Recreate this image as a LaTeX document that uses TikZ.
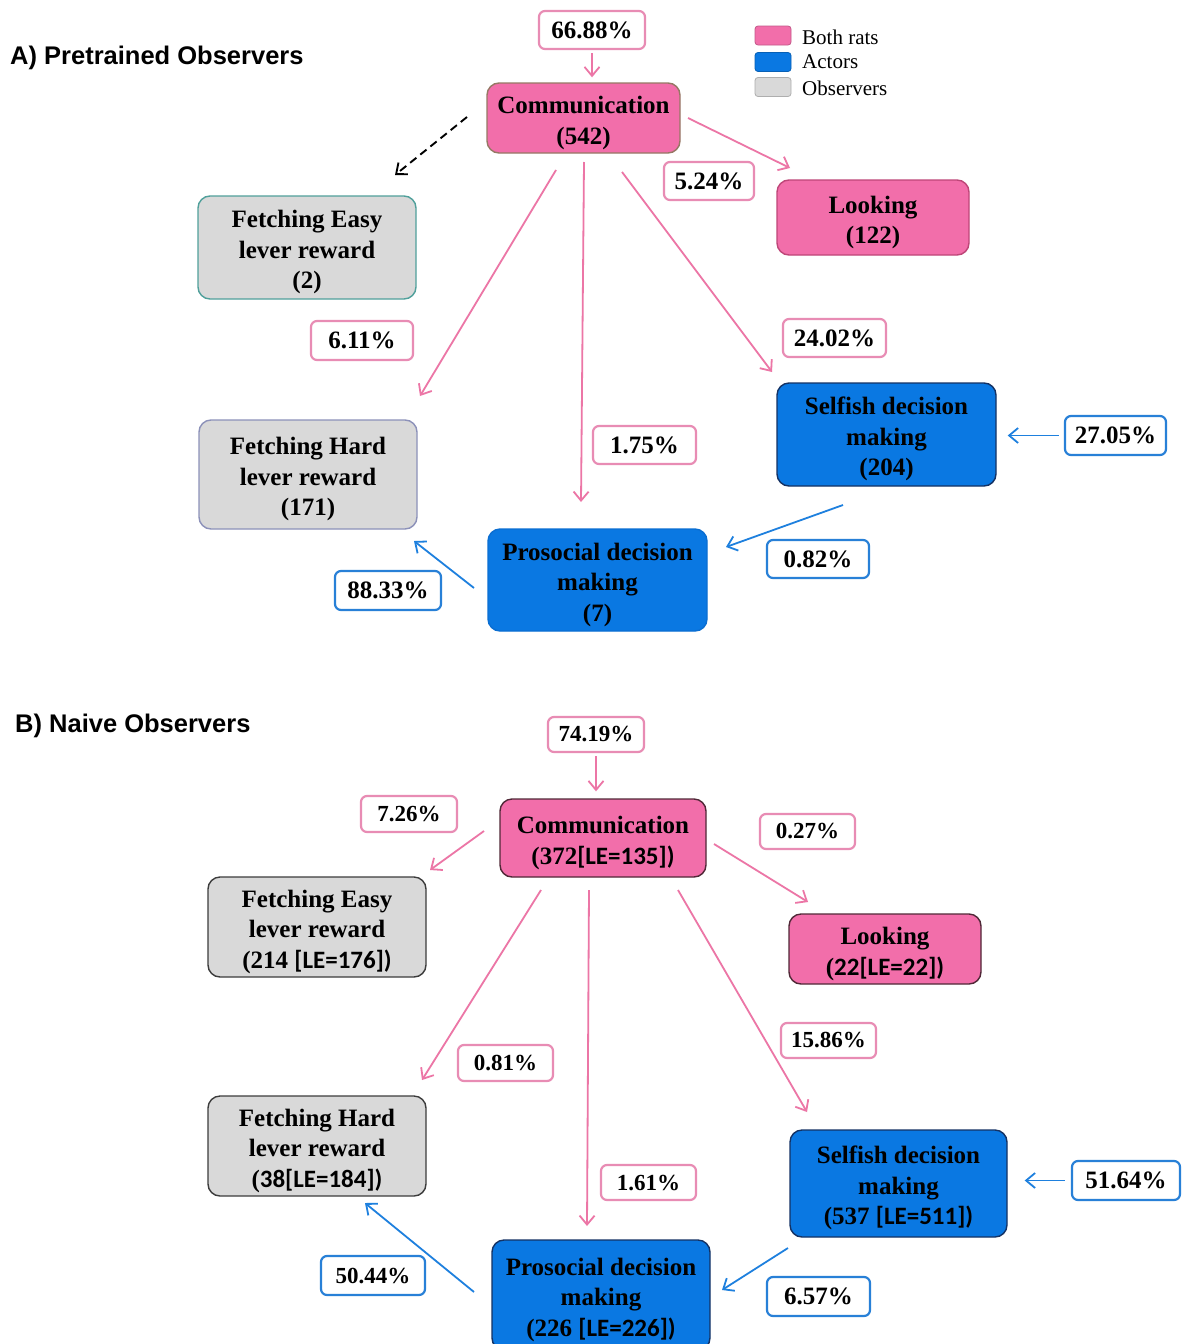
\documentclass[tikz,border=0pt]{standalone}
\usepackage{fontspec}
\setmainfont{Liberation Serif}
\newfontfamily\headfont{Liberation Sans}
\newfontfamily\lefont{Carlito}
\usetikzlibrary{arrows.meta}

% invisible strut that gives the first line of a box some extra head room
\newcommand\headroom{\rule{0pt}{27pt}}

\definecolor{bothfill}{RGB}{242,110,170}
\definecolor{actfill}{RGB}{10,120,226}
\definecolor{obsfill}{RGB}{217,217,217}
\definecolor{pinkln}{RGB}{236,118,166}
\definecolor{pinklbl}{RGB}{232,140,180}
\definecolor{blueln}{RGB}{30,128,222}
\definecolor{bluelbl}{RGB}{40,128,215}
\definecolor{bothedge}{RGB}{150,70,100}
\definecolor{commedge}{RGB}{150,120,100}
\definecolor{lookedge}{RGB}{190,70,120}
\definecolor{darkedge}{RGB}{80,40,55}
\definecolor{actedge}{RGB}{20,50,100}
\definecolor{prosedge}{RGB}{10,110,210}
\definecolor{obsedge}{RGB}{60,60,60}
\definecolor{tealedge}{RGB}{80,160,155}
\definecolor{lilacedge}{RGB}{140,145,185}

\tikzset{
  box/.style={rounded corners=12pt, line width=1.4pt, align=center, inner sep=0pt,
              font=\bfseries\fontsize{25}{30.5}\selectfont},
  both/.style={box, fill=bothfill, draw=#1},
  both/.default=bothedge,
  actor/.style={box, fill=actfill, draw=#1},
  actor/.default=actedge,
  obs/.style={box, fill=obsfill, draw=#1},
  obs/.default=obsedge,
  lbl/.style={rounded corners=6pt, fill=white, line width=2.2pt, inner sep=0pt,
              font=\bfseries\fontsize{25}{30}\selectfont},
  plbl/.style={lbl, draw=pinklbl},
  blbl/.style={lbl, draw=bluelbl},
  small/.style={font=\bfseries\fontsize{23}{28}\selectfont},
  tip/.style={-{Straight Barb[length=9pt,width=15pt]}},
  parr/.style={draw=pinkln, line width=1.8pt, tip},
  barr/.style={draw=blueln, line width=1.8pt, tip},
  swatch/.style={rounded corners=3pt, line width=0.8pt, minimum width=36pt, minimum height=19pt, inner sep=0pt},
  legtext/.style={anchor=west, inner sep=0pt, font=\fontsize{21}{24}\selectfont},
  paneltitle/.style={anchor=west, inner sep=0pt, font=\headfont\bfseries\fontsize{25.5}{30}\selectfont},
}

\begin{document}
\begin{tikzpicture}[x=1pt, y=-1pt]
\path[use as bounding box, clip] (0,0) rectangle (1182,1344);
\fill[white] (0,0) rectangle (1182,1344);

% ---------------- Panel A: pretrained observers ----------------
\node[paneltitle] (titleA) at (10,58) {A) Pretrained Observers};

% legend
\node[swatch, fill=bothfill, draw=bothfill!80!black] (swBoth) at (773,35.5) {};
\node[swatch, fill=actfill, draw=actfill!80!black] (swAct) at (773,62) {};
\node[swatch, fill=obsfill, draw=obsfill!80!black] (swObs) at (773,87) {};
\node[legtext] (tBoth) at (802,37) {Both rats};
\node[legtext] (tAct) at (802,62) {Actors};
\node[legtext] (tObs) at (802,88) {Observers};

\node[plbl, minimum width=106, minimum height=38] (lA1) at (592,30) {66.88\%};
\node[both=commedge, minimum width=193, minimum height=70] (commA) at (583.5,118) {\headroom Communication\\(542)};
\node[both=lookedge, minimum width=192, minimum height=75] (lookA) at (873,217.5) {\headroom Looking\\(122)};
\node[obs=tealedge, minimum width=218, minimum height=103] (easyA) at (307,247.5) {\headroom Fetching Easy\\lever reward\\(2)};
\node[obs=lilacedge, minimum width=218, minimum height=109] (hardA) at (308,474.5) {\headroom Fetching Hard\\lever reward\\(171)};
\node[actor, minimum width=219, minimum height=103] (selfA) at (886.5,434.5) {\headroom Selfish decision\\making\\(204)};
\node[actor=prosedge, minimum width=219, minimum height=102] (prosA) at (597.5,580) {\headroom Prosocial decision\\making\\(7)};

\node[plbl, minimum width=90, minimum height=38] (l524) at (709,181) {5.24\%};
\node[plbl, minimum width=102, minimum height=39] (l611) at (362,340.5) {6.11\%};
\node[plbl, minimum width=103, minimum height=38] (l2402) at (834.5,338) {24.02\%};
\node[blbl, minimum width=101, minimum height=39] (l2705) at (1115.5,435.5) {27.05\%};
\node[plbl, minimum width=103, minimum height=38] (l175) at (644.5,445) {1.75\%};
\node[blbl, minimum width=102, minimum height=38] (l082) at (818,559) {0.82\%};
\node[blbl, minimum width=106, minimum height=39] (l8833) at (388,590.5) {88.33\%};

% free ends of the panel A connectors
\coordinate (dA1) at (467,117);  \coordinate (dA2) at (395,175);
\coordinate (cLk1) at (688,118); \coordinate (cLk2) at (790,168);
\coordinate (cHd1) at (556,170); \coordinate (cHd2) at (420,396);
\coordinate (cPr1) at (584,162); \coordinate (cPr2) at (581,502);
\coordinate (cSf1) at (622,172); \coordinate (cSf2) at (772,372);
\coordinate (sP1) at (843,505);  \coordinate (sP2) at (726,547);
\coordinate (pH1) at (474,588);  \coordinate (pH2) at (414,541);

\draw[parr, shorten <=3pt, shorten >=5pt] (lA1.south) -- (lA1.south |- commA.north);
\draw[black, line width=1.9pt, dash pattern=on 8pt off 5pt, tip] (dA1) -- (dA2);
\draw[parr] (cLk1) -- (cLk2);
\draw[parr] (cHd1) -- (cHd2);
\draw[parr] (cPr1) -- (cPr2);
\draw[parr] (cSf1) -- (cSf2);
\draw[barr, shorten <=5pt, shorten >=11pt] (l2705.west) -- (l2705.west -| selfA.east);
\draw[barr] (sP1) -- (sP2);
\draw[barr] (pH1) -- (pH2);

% ---------------- Panel B: naive observers ----------------
\node[paneltitle] (titleB) at (15,726) {B) Naive Observers};

\node[plbl, small, minimum width=96, minimum height=35] (lB1) at (596,734.5) {74.19\%};
\node[both=darkedge, minimum width=206, minimum height=78] (commB) at (603,838) {\headroom Communication\\(372{\lefont[LE=135])}};
\node[obs, minimum width=218, minimum height=100] (easyB) at (317,927) {\headroom Fetching Easy\\lever reward\\(214 {\lefont[LE=176])}};
\node[both=darkedge, minimum width=192, minimum height=70] (lookB) at (885,949) {\headroom Looking\\({\lefont22[LE=22])}};
\node[obs, minimum width=218, minimum height=100] (hardB) at (317,1146) {\headroom Fetching Hard\\lever reward\\({\lefont38[LE=184])}};
\node[actor, minimum width=217, minimum height=107] (selfB) at (898.5,1183.5) {\headroom Selfish decision\\making\\(537 {\lefont[LE=511])}};
\node[actor, minimum width=218, minimum height=110] (prosB) at (601,1295) {\headroom Prosocial decision\\making\\(226 {\lefont[LE=226])}};

\node[plbl, small, minimum width=96, minimum height=36] (l726) at (409,814) {7.26\%};
\node[plbl, small, minimum width=95, minimum height=35] (l027) at (807.5,831.5) {0.27\%};
\node[plbl, small, minimum width=95, minimum height=36] (l081) at (505.5,1063) {0.81\%};
\node[plbl, small, minimum width=95, minimum height=35] (l1586) at (828.5,1040.5) {15.86\%};
\node[blbl, minimum width=108, minimum height=39] (l5164) at (1126,1180.5) {51.64\%};
\node[plbl, small, minimum width=95, minimum height=35] (l161) at (648.5,1182.5) {1.61\%};
\node[blbl, minimum width=103, minimum height=39] (l657) at (818.5,1296.5) {6.57\%};
\node[blbl, small, minimum width=104, minimum height=39] (l5044) at (373,1275.5) {50.44\%};

% free ends of the panel B connectors
\coordinate (cEzB1) at (484,831);  \coordinate (cEzB2) at (430,870);
\coordinate (cLkB1) at (714,844);  \coordinate (cLkB2) at (808,902);
\coordinate (cHdB1) at (541,890);  \coordinate (cHdB2) at (422,1080);
\coordinate (cPrB1) at (589,890);  \coordinate (cPrB2) at (587,1226);
\coordinate (cSfB1) at (678,890);  \coordinate (cSfB2) at (807,1112);
\coordinate (sPB1) at (788,1248);  \coordinate (sPB2) at (722,1290);
\coordinate (pHB1) at (474,1292);  \coordinate (pHB2) at (365,1203);

\draw[parr, shorten <=3pt, shorten >=7pt] (lB1.south) -- (lB1.south |- commB.north);
\draw[parr] (cEzB1) -- (cEzB2);
\draw[parr] (cLkB1) -- (cLkB2);
\draw[parr] (cHdB1) -- (cHdB2);
\draw[parr] (cPrB1) -- (cPrB2);
\draw[parr] (cSfB1) -- (cSfB2);
\draw[barr, shorten <=6pt, shorten >=17pt] (l5164.west) -- (l5164.west -| selfB.east);
\draw[barr] (sPB1) -- (sPB2);
\draw[barr] (pHB1) -- (pHB2);
\end{tikzpicture}
\end{document}
